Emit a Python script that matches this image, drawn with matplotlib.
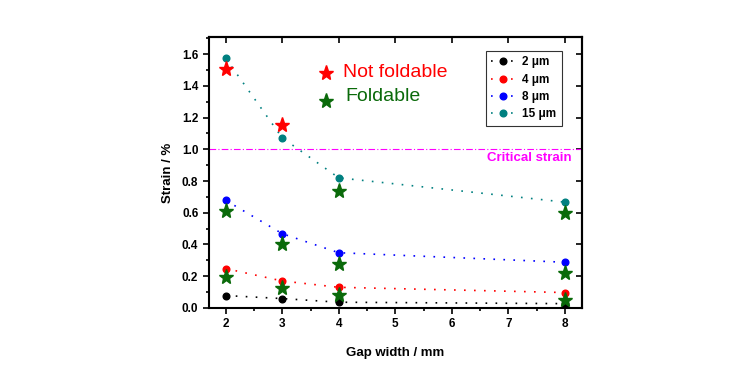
import numpy as np
import matplotlib
matplotlib.use("Agg")
from matplotlib import pyplot as plt
from matplotlib.ticker import MultipleLocator

plt.rcParams['font.family'] = ['Liberation Sans', 'DejaVu Sans']

# gap width (mm)
gap = [2, 3, 4, 8]

# strain (%) for each thickness
s2 = [0.078, 0.059, 0.036, 0.027]
s4 = [0.248, 0.170, 0.130, 0.097]
s8 = [0.678, 0.468, 0.348, 0.288]
s15 = [1.573, 1.072, 0.820, 0.667]

labels = ['2 \u03bcm', '4 \u03bcm', '8 \u03bcm', '15 \u03bcm']
colors = ['black', 'red', 'blue', '#008080']

# star markers
nf_x = [2, 3]
nf_y = [1.507, 1.154]
f_x = [2, 3, 4, 8, 2, 3, 4, 8, 4, 8]
f_y = [0.611, 0.405, 0.735, 0.60, 0.195, 0.124, 0.279, 0.222, 0.08, 0.048]

critical = 1.0

fig = plt.figure(figsize=(7.43, 3.71), dpi=100)
ax = fig.add_axes([0.281, 0.170, 0.502, 0.730])

for ys, c, lab in zip([s2, s4, s8, s15], colors, labels):
    ax.plot(gap, ys, linestyle=(0, (1, 5)), color=c, lw=1.2, marker='o',
            markersize=4.8, label=lab)

ax.plot(nf_x, nf_y, linestyle='none', marker='*', color='red', markersize=11)
ax.plot(f_x, f_y, linestyle='none', marker='*', color='#0a6a0a', markersize=11)

ax.axhline(critical, color='#ff00ff', lw=0.8, linestyle=(0, (6, 2, 1, 2)))
ax.text(8.125, 0.945, 'Critical strain', color='#ff00ff', fontsize=9.5,
        fontweight='bold', ha='right', va='center')

# legend for the stars
ax.plot([3.77], [1.48], marker='*', color='red', markersize=11, linestyle='none')
ax.text(4.07, 1.486, 'Not foldable', color='red', fontsize=14, va='center')
ax.plot([3.77], [1.304], marker='*', color='#0a6a0a', markersize=11, linestyle='none')
ax.text(4.11, 1.331, 'Foldable', color='#0a6a0a', fontsize=14, va='center')

leg = ax.legend(loc='upper right', bbox_to_anchor=(0.946, 0.948), frameon=True,
                fancybox=False, edgecolor='black',
                prop={'weight': 'bold', 'size': 8.5}, handlelength=2.0,
                borderpad=0.45, labelspacing=0.45, handletextpad=0.6,
                borderaxespad=0)
leg.get_frame().set_linewidth(0.8)

ax.set_xlim(1.7, 8.3)
ax.set_ylim(0, 1.707)
ax.xaxis.set_major_locator(MultipleLocator(1))
ax.xaxis.set_minor_locator(MultipleLocator(0.5))
ax.yaxis.set_major_locator(MultipleLocator(0.2))
ax.yaxis.set_minor_locator(MultipleLocator(0.1))

ax.set_xlabel('Gap width / mm', fontsize=9.5, fontweight='bold', labelpad=12)
ax.set_ylabel('Strain / %', fontsize=9.5, fontweight='bold', labelpad=6)

for sp in ax.spines.values():
    sp.set_linewidth(1.5)

ax.tick_params(which='both', direction='out', width=1.2, labelsize=8.5)
ax.tick_params(which='major', length=4)
ax.tick_params(which='minor', length=2.5)
for t in ax.get_xticklabels() + ax.get_yticklabels():
    t.set_fontweight('bold')

# mirrored ticks on top/right pointing inward
axt = ax.secondary_xaxis('top')
axt.xaxis.set_major_locator(MultipleLocator(1))
axt.tick_params(which='major', direction='in', width=1.2, length=4, labeltop=False)
axt.tick_params(which='minor', length=0)
axr = ax.secondary_yaxis('right')
axr.yaxis.set_major_locator(MultipleLocator(0.2))
axr.tick_params(which='major', direction='in', width=1.2, length=4, labelright=False)
axr.tick_params(which='minor', length=0)
axt.spines['top'].set_linewidth(1.5)
axr.spines['right'].set_linewidth(1.5)

fig.savefig('out.png', dpi=100)
